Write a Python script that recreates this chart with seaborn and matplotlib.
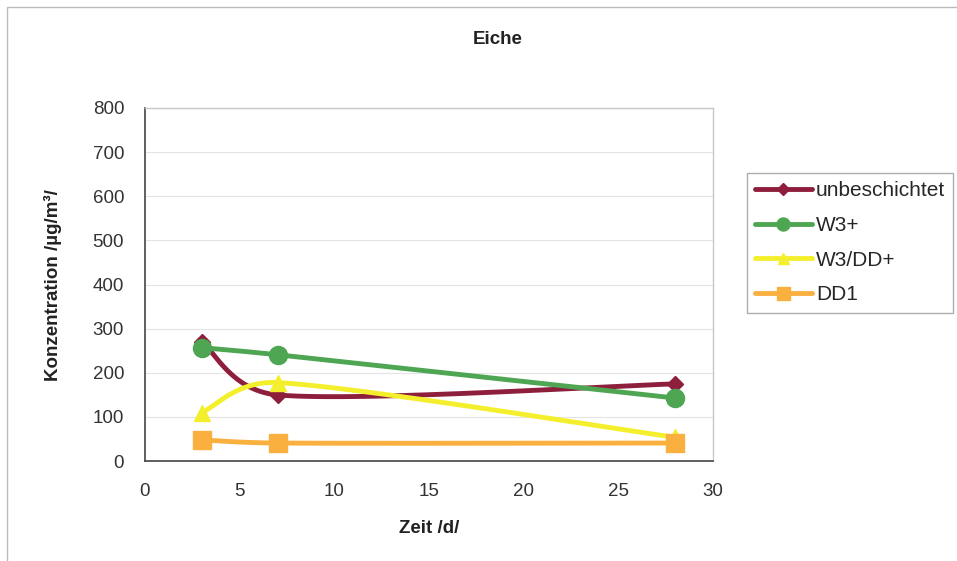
import numpy as np
import pandas as pd
import matplotlib
matplotlib.use("Agg")
import matplotlib.pyplot as plt
import seaborn as sns
from matplotlib.lines import Line2D
from matplotlib.patches import Rectangle

# Messdaten: Konzentration in µg/m³ über die Zeit in Tagen
zeit = [3, 7, 28]
unbeschichtet = [270, 150, 175]
w3_plus = [257, 241, 143]
w3_dd_plus = [110, 178, 54]
dd1 = [48, 41, 41]

serien = ["unbeschichtet", "W3+", "W3/DD+", "DD1"]
werte = [unbeschichtet, w3_plus, w3_dd_plus, dd1]
farben = ["#8e1f3c", "#4ea552", "#f4ef2c", "#f9b03f"]
marker = ["D", "o", "^", "s"]
markergroesse = [8, 13, 11, 13]

x_ticks = [0, 5, 10, 15, 20, 25, 30]
y_ticks = [0, 100, 200, 300, 400, 500, 600, 700, 800]

# Achsenmaßstab (Pixel je Einheit) für die Glättung
SX, SY = 568 / 30, 353 / 800


def glatt(xs, ys, n=80):
    """Geglättete Kurve: kubische Bezier-Segmente, Tangenten nach Catmull-Rom,
    Länge der Kontrollvektoren auf einen Teil der Segmentlänge begrenzt."""
    p = np.column_stack([np.asarray(xs) * SX, np.asarray(ys) * SY]).astype(float)
    m = len(p)
    d = np.linalg.norm(np.diff(p, axis=0), axis=1)

    def ctrl(i, seg):
        tan = (p[min(i + 1, m - 1)] - p[max(i - 1, 0)]) / 6.0
        ln = np.linalg.norm(tan)
        lim = 0.5 * d[seg]
        return tan * (lim / ln) if ln > lim else tan

    out = []
    for i in range(m - 1):
        p1, p2 = p[i], p[i + 1]
        c1 = p1 + ctrl(i, i)
        c2 = p2 - ctrl(i + 1, i)
        t = np.linspace(0, 1, n)[:, None]
        seg = ((1 - t) ** 3) * p1 + 3 * ((1 - t) ** 2) * t * c1 + 3 * (1 - t) * t ** 2 * c2 + t ** 3 * p2
        out.append(seg if i == 0 else seg[1:])
    k = np.vstack(out)
    return k[:, 0] / SX, k[:, 1] / SY


sns.set_theme(style="white")
plt.rcParams["font.family"] = ["Liberation Sans", "DejaVu Sans"]

fig = plt.figure(figsize=(9.57, 5.61), dpi=100)
fig.patch.set_facecolor("white")
ax = fig.add_axes([0.1515, 0.178, 0.5935, 0.6295])

kurven = []
punkte = []
for name, w in zip(serien, werte):
    kx, ky = glatt(zeit, w)
    kurven.append(pd.DataFrame({"Zeit": kx, "Wert": ky, "Serie": name}))
    punkte.append(pd.DataFrame({"Zeit": zeit, "Wert": w, "Serie": name}))
kurven = pd.concat(kurven)
punkte = pd.concat(punkte)

for name, f, m, ms in zip(serien, farben, marker, markergroesse):
    kd = kurven[kurven["Serie"] == name]
    sns.lineplot(data=kd, x="Zeit", y="Wert", sort=False, estimator=None, color=f,
                 linewidth=3.5, ax=ax, legend=False)
    pd_ = punkte[punkte["Serie"] == name]
    ax.plot(pd_["Zeit"], pd_["Wert"], linestyle="none", marker=m, markersize=ms,
            markerfacecolor=f, markeredgecolor=f, zorder=5)

ax.set_xlim(0, 30)
ax.set_ylim(0, 800)
ax.set_xticks(x_ticks)
ax.set_yticks(y_ticks)
ax.set_xticklabels([str(v) for v in x_ticks], fontsize=13.5, color="#333333")
ax.set_yticklabels([str(v) for v in y_ticks], fontsize=13.5, color="#333333")
ax.tick_params(axis="x", direction="inout", length=6, width=1, color="#444444", pad=13)
ax.tick_params(axis="y", direction="out", length=4, width=1, color="#999999", pad=11)
ax.yaxis.grid(True, color="#e4e4e4", linewidth=0.8)
ax.set_axisbelow(True)
for s in ["left", "bottom"]:
    ax.spines[s].set_color("#444444")
    ax.spines[s].set_linewidth(1.2)
for s in ["top", "right"]:
    ax.spines[s].set_color("#c8c8c8")
    ax.spines[s].set_linewidth(1.0)

ax.set_xlabel("Zeit /d/", fontsize=13.5, fontweight="bold", color="#222222", labelpad=14)
ax.set_ylabel("Konzentration /µg/m³/", fontsize=13.5, fontweight="bold", color="#222222", labelpad=22)
fig.text(0.52, 0.93, "Eiche", ha="center", va="center", fontsize=13.5, fontweight="bold", color="#222222")

handles = [Line2D([0], [0], color=f, linewidth=3.5, marker=m, markersize=ms * 0.72,
                  markerfacecolor=f, markeredgecolor=f)
           for f, m, ms in zip(farben, marker, markergroesse)]
leg = fig.legend(handles, serien, loc="upper left", bbox_to_anchor=(747 / 957, 1 - 173 / 561),
                 frameon=True, fancybox=False, fontsize=15, handlelength=2.7,
                 handletextpad=0.2, labelspacing=0.75, borderpad=0.4, borderaxespad=0,
                 edgecolor="#999999")
leg.get_frame().set_linewidth(1.0)

# Rahmen des Diagrammbereichs
fig.patches.append(Rectangle((7 / 957, -0.05), 1.1, 1.05 - 7 / 561, transform=fig.transFigure,
                             fill=False, edgecolor="#bbbbbb", linewidth=1.0))

fig.savefig("out.png", dpi=100, facecolor="white")
